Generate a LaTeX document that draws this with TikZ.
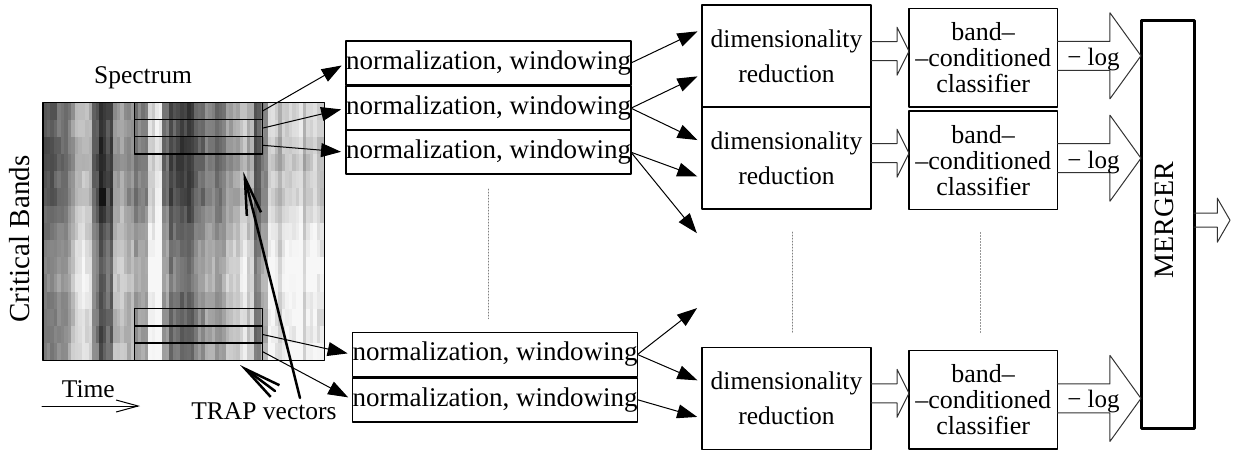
\documentclass[tikz,border=0pt]{standalone}
\usepackage{fontspec}
\setmainfont{Liberation Serif}
\usetikzlibrary{arrows.meta,positioning,calc}

\tikzset{
  pics/fat/.style args={#1/#2/#3/#4}{code={
      \draw[fatline] (0,-#1) -- (#3,-#1) -- (#3,-#2) -- ({#3+#4},0) -- (#3,#2) -- (#3,#1) -- (0,#1);
  }},
}

\begin{document}
\begin{tikzpicture}[x=0.5pt, y=-0.5pt, line cap=round, line join=round,
    txt/.style={inner sep=0pt, font=\fontsize{12.75}{14}\selectfont},
    band/.style={draw, line width=0.7pt, outer sep=0pt, minimum width=64.2pt, minimum height=8.6pt, inner sep=0pt},
    normbox/.style={draw, line width=0.8pt, outer sep=0pt, minimum width=136.5pt, minimum height=22pt, inner sep=0pt, font=\fontsize{13.5}{15}\selectfont},
    dimbox/.style={draw, line width=0.8pt, outer sep=0pt, minimum width=84.5pt, minimum height=51pt, inner sep=0pt, align=center, font=\fontsize{12.75}{17.5}\selectfont},
    clsbox/.style={draw, line width=0.8pt, outer sep=0pt, minimum width=74.25pt, minimum height=49.3pt, inner sep=0pt, align=center, font=\fontsize{13}{13}\selectfont},
    arr/.style={-{Triangle[length=10pt,width=7pt]}, line width=0.5pt, shorten >=2.5pt},
    traparr/.style={-{Straight Barb[length=18.6pt,width=7.3pt]}, line width=1.25pt},
    fatline/.style={line width=0.5pt, black!80},
    gapline/.style={gray, dash pattern=on 0.4pt off 1.1pt, line width=0.5pt}]

    \useasboundingbox (0,0) rectangle (1234,450);

    % spectrum: one grey value per time column, two stripes each, shaded per band
    \pgfmathsetseed{7}
    \foreach \v [count=\i from 0] in {42,40,52,55,72,85,75,45,30,38,72,70,66,58,62,92,95,55,40,35,
                                      32,42,52,58,55,60,66,78,88,75,42,55,88,82,92,86,93,84,90,86} {
      \foreach \k in {0,1} {
        \pgfmathsetmacro\co{7*rand}
        \foreach \r [count=\j from 0] in {-8,-6,-10,-12,-8,-8,-2,2,6,10,10,6,4,4,8} {
          \pgfmathtruncatemacro\g{min(97,max(3,\v+(\r)+\co+5*rand))}
          \fill[white!\g!black] ({43+7.025*\i+3.5125*\k},{102.3+17.2*\j}) rectangle ++(3.9,17.5);
        }
      }
    }
    \fill[black!92] (99.2,188.3) rectangle ++(7,17.2);
    \node[draw, line width=0.7pt, minimum width=140.65pt, minimum height=129pt, inner sep=0pt] (spec) at (183.65,231.3) {};

    \node[band] (b1) at (198.5,110.9) {};
    \node[band, below=0pt of b1] (b2) {};
    \node[band, below=0pt of b2] (b3) {};
    \node[band] (b4) at (198.5,317.3) {};
    \node[band, below=0pt of b4] (b5) {};
    \node[band, below=0pt of b5] (b6) {};

    \node[txt] (speclbl) at (143,77.5) {Spectrum};
    \node[txt, rotate=90, font=\fontsize{14.5}{16}\selectfont] (bands) at (20,239) {Critical Bands};
    \node[txt] (time) at (88.3,389.6) {Time};
    \coordinate (t0) at (42,406);
    \coordinate (t1) at (140,406);
    \draw[-{Straight Barb[length=11pt,width=6pt]}, line width=0.5pt] (t0) -- (t1);

    \node[txt] (trap) at (264,411.5) {TRAP vectors};
    \coordinate (tA) at (300,398);
    \coordinate (tB) at (275,391);
    \coordinate (hiA) at (243.3,171.7);
    \coordinate (hiB) at (240,365);
    \draw[traparr] (tA) -- (hiA);
    \draw[traparr] (tB) -- (hiB);

    % normalization
    \node[normbox] (n1) at (488.5,63) {normalization, windowing};
    \node[normbox, below=0.6pt of n1] (n2) {normalization, windowing};
    \node[normbox, below=0pt of n2] (n3) {normalization, windowing};
    \node[normbox] (n4) at (495,354.5) {normalization, windowing};
    \node[normbox, below=0.6pt of n4] (n5) {normalization, windowing};
    \draw[gapline] ($(n3.south)+(0,15)$) -- ($(n3.south |- n4.north)+(0,-14)$);

    \draw[arr] (b1.east) -- (n1.west);
    \draw[arr] (b2.east) -- (n2.west);
    \draw[arr] (b3.east) -- (n3.west);
    \draw[arr] (b5.east) -- (n4.west);
    \draw[arr] (b6.east) -- (n5.west);

    % dimensionality reduction
    \node[dimbox] (dim1) at (786.5,56.2) {dimensionality\\reduction};
    \node[dimbox, below=0pt of dim1] (dim2) {dimensionality\\reduction};
    \node[dimbox] (dim3) at (786.5,398.3) {dimensionality\\reduction};
    \draw[gapline] ($(dim2.south)+(6,23)$) -- ($(dim2.south |- dim3.north)+(6,-14.5)$);

    \coordinate (gap1) at (700,237);
    \coordinate (gap2) at (701,305);
    \draw[arr] (n1.east) -- ($(dim1.west)+(0,-27)$);
    \draw[arr] (n2.east) -- ($(dim1.west)+(0,18)$);
    \draw[arr] (n2.east) -- ($(dim2.west)+(0,-16)$);
    \draw[arr] (n3.east) -- ($(dim2.west)+(0,20)$);
    \draw[arr] (n3.east) -- (gap1);
    \draw[arr] (n4.east) -- (gap2);
    \draw[arr] (n4.east) -- ($(dim3.west)+(0,-16)$);
    \draw[arr] (n5.east) -- ($(dim3.west)+(0,20)$);

    % classifiers
    \node[clsbox] (cls1) at (983.2,57.8) {band–\\–conditioned\\classifier};
    \node[clsbox] (cls2) at (983.2,160.2) {band–\\–conditioned\\classifier};
    \node[clsbox] (cls3) at (983.2,399.9) {band–\\–conditioned\\classifier};
    \draw[gapline] ($(cls2.south)+(-3,23)$) -- ($(cls2.south |- cls3.north)+(-3,-18)$);

    \pic at ($(dim1.east)+(0,-5)$) {fat=9.5/24/26/12};
    \pic at ($(dim2.east)+(0,-5)$) {fat=9.5/24/26/12};
    \pic at ($(dim3.east)+(0,-5)$) {fat=9.5/24/26/12};

    % merger
    \node[draw, line width=1.5pt, outer sep=0pt, minimum width=26.5pt, minimum height=204pt, inner sep=0pt] (merger) at (1167.5,224.2) {};
    \node[txt, rotate=90, font=\fontsize{14}{16}\selectfont] (mergerlbl) at (1164,220) {MERGER};

    \pic at ($(cls1.east)+(0,-2)$) {fat=14.5/43/52.5/31};
    \pic at ($(cls2.east)+(0,-2)$) {fat=14.5/43/52.5/31};
    \pic at ($(cls3.east)+(0,-1.5)$) {fat=14.5/43/52.5/31};
    \node[txt, font=\fontsize{12.5}{14}\selectfont] (log1) at ($(cls1.east)+(36,2)$) {− log};
    \node[txt, font=\fontsize{12.5}{14}\selectfont] (log2) at ($(cls2.east)+(36,2)$) {− log};
    \node[txt, font=\fontsize{12.5}{14}\selectfont] (log3) at ($(cls3.east)+(36,2)$) {− log};

    \pic at ($(merger.east)+(0,-4)$) {fat=7/22/23.3/12.7};
\end{tikzpicture}
\end{document}
